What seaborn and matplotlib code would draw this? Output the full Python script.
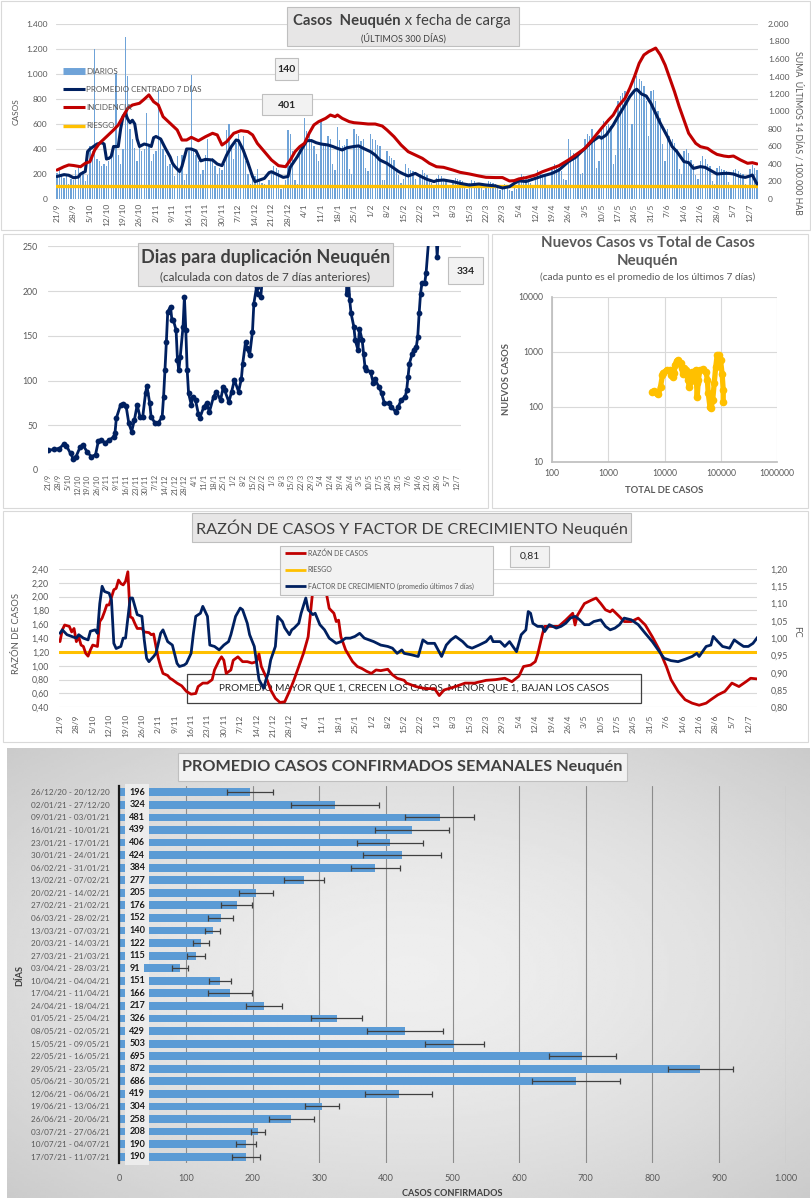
import numpy as np
import pandas as pd
import matplotlib
matplotlib.use("Agg")
import matplotlib.pyplot as plt
import seaborn as sns
from matplotlib.patches import Rectangle
from matplotlib.lines import Line2D
from matplotlib.ticker import FuncFormatter, NullLocator

# ---------------------------------------------------------------- DATA
TICK_LABELS = ['21/9', '28/9', '5/10', '12/10', '19/10', '26/10', '2/11', '9/11', '16/11', '23/11',
               '30/11', '7/12', '14/12', '21/12', '28/12', '4/1', '11/1', '18/1', '25/1', '1/2',
               '8/2', '15/2', '22/2', '1/3', '8/3', '15/3', '22/3', '29/3', '5/4', '12/4', '19/4',
               '26/4', '3/5', '10/5', '17/5', '24/5', '31/5', '7/6', '14/6', '21/6', '28/6', '5/7', '12/7']

# daily cases 21/9/2020 .. 15/7/2021 (one row per week, Mon..Sun)
DIARIOS = [
    210, 240, 190, 170, 200, 120, 160,
    150, 230, 260, 200, 220, 140, 190,
    420, 380, 1200, 320, 300, 260, 280,
    260, 300, 380, 420, 1010, 350, 280,
    400, 1300, 980, 560, 480, 410, 300,
    420, 380, 400, 690, 430, 300, 360,
    380, 860, 470, 400, 350, 260, 280,
    280, 180, 340, 220, 350, 150, 200,
    380, 990, 400, 350, 300, 200, 230,
    350, 480, 300, 330, 260, 200, 250,
    230, 280, 550, 600, 430, 320, 450,
    520, 440, 500, 300, 200, 120, 160,
    180, 240, 150, 130, 120, 100, 150,
    220, 260, 250, 230, 80, 90, 150,
    550, 520, 380, 150, 120, 420, 400,
    650, 540, 520, 480, 420, 360, 300,
    620, 440, 450, 500, 480, 280, 230,
    575, 470, 420, 430, 480, 240, 200,
    560, 520, 500, 460, 480, 250, 220,
    520, 480, 470, 430, 420, 150, 150,
    380, 340, 330, 310, 240, 190, 130,
    160, 280, 250, 230, 220, 160, 110,
    200, 230, 210, 190, 160, 130, 100,
    170, 190, 180, 160, 150, 115, 90,
    150, 170, 160, 150, 140, 120, 80,
    130, 150, 140, 130, 120, 105, 70,
    120, 140, 135, 125, 120, 95, 75,
    110, 120, 100, 70, 60, 102, 80,
    140, 200, 180, 170, 160, 127, 90,
    160, 230, 210, 190, 180, 102, 110,
    230, 280, 270, 250, 220, 160, 150,
    480, 390, 370, 350, 340, 200, 210,
    480, 520, 500, 560, 480, 250, 300,
    560, 620, 580, 600, 580, 280, 350,
    780, 820, 850, 860, 800, 405, 600,
    950, 980, 960, 940, 900, 780, 500,
    860, 870, 780, 700, 650, 442, 300,
    560, 500, 480, 450, 400, 243, 200,
    380, 400, 370, 310, 280, 188, 160,
    300, 340, 320, 280, 260, 146, 120,
    250, 260, 240, 230, 220, 136, 110,
    230, 240, 220, 210, 200, 120, 100,
    240, 270, 250, 230,
]

PROMEDIO_7D = [
    ('21/9', 180), ('24/9', 195), ('26/9', 190), ('28/9', 170), ('30/9', 175), ('1/10', 200),
    ('3/10', 220), ('4/10', 380), ('5/10', 400), ('8/10', 440), ('10/10', 450), ('11/10', 440),
    ('12/10', 320), ('13/10', 325), ('14/10', 340), ('15/10', 420), ('17/10', 420), ('18/10', 560),
    ('19/10', 660), ('20/10', 688), ('21/10', 640), ('22/10', 610), ('23/10', 630), ('24/10', 600),
    ('25/10', 480), ('26/10', 420), ('28/10', 440), ('30/10', 430), ('31/10', 420), ('1/11', 490),
    ('2/11', 500), ('4/11', 480), ('6/11', 405), ('8/11', 337), ('9/11', 287), ('10/11', 260),
    ('12/11', 220), ('13/11', 260), ('14/11', 330), ('15/11', 400), ('17/11', 400), ('19/11', 385),
    ('21/11', 305), ('23/11', 317), ('26/11', 312), ('28/11', 280), ('30/11', 267), ('2/12', 352),
    ('4/12', 420), ('6/12', 472), ('7/12', 467), ('9/12', 392), ('11/12', 290), ('13/12', 178),
    ('14/12', 139), ('16/12', 152), ('18/12', 165), ('20/12', 211), ('21/12', 218), ('23/12', 200),
    ('26/12', 173), ('28/12', 180), ('29/12', 255), ('1/1', 339), ('3/1', 405), ('5/1', 467),
    ('7/1', 467), ('9/1', 450), ('11/1', 440), ('14/1', 432), ('16/1', 420), ('18/1', 405),
    ('20/1', 392), ('22/1', 410), ('25/1', 420), ('27/1', 425), ('29/1', 405), ('1/2', 379),
    ('3/2', 352), ('5/2', 312), ('8/2', 285), ('10/2', 259), ('13/2', 219), ('15/2', 200),
    ('17/2', 184), ('20/2', 205), ('22/2', 184), ('25/2', 157), ('28/2', 139), ('1/3', 147),
    ('4/3', 152), ('8/3', 139), ('11/3', 125), ('15/3', 112), ('19/3', 120), ('22/3', 112),
    ('26/3', 105), ('29/3', 88), ('1/4', 99), ('3/4', 125), ('5/4', 145), ('8/4', 140),
    ('12/4', 165), ('15/4', 184), ('19/4', 205), ('22/4', 232), ('26/4', 299), ('29/4', 333),
    ('3/5', 405), ('6/5', 459), ('9/5', 499), ('10/5', 486), ('12/5', 512), ('15/5', 592),
    ('17/5', 659), ('20/5', 752), ('22/5', 819), ('24/5', 867), ('25/5', 878), ('27/5', 840),
    ('29/5', 824), ('31/5', 765), ('2/6', 685), ('4/6', 605), ('7/6', 499), ('9/6', 419),
    ('11/6', 379), ('14/6', 299), ('16/6', 291), ('18/6', 245), ('21/6', 259), ('23/6', 253),
    ('25/6', 232), ('28/6', 200), ('1/7', 205), ('3/7', 205), ('5/7', 200), ('8/7', 179),
    ('10/7', 173), ('12/7', 184), ('13/7', 192), ('15/7', 120),
]

INCIDENCIA = [
    ('21/9', 331), ('24/9', 369), ('26/9', 389), ('28/9', 383), ('1/10', 369), ('3/10', 408),
    ('5/10', 427), ('7/10', 560), ('9/10', 636), ('12/10', 712), ('15/10', 789), ('17/10', 846),
    ('19/10', 941), ('21/10', 1036), ('23/10', 1074), ('26/10', 1094), ('28/10', 1140), ('30/10', 1190),
    ('1/11', 1112), ('3/11', 1074), ('5/11', 941), ('8/11', 865), ('11/11', 789), ('13/11', 674),
    ('15/11', 674), ('17/11', 705), ('20/11', 666), ('23/11', 712), ('26/11', 751), ('28/11', 732),
    ('30/11', 617), ('2/12', 655), ('5/12', 751), ('8/12', 781), ('11/12', 770), ('13/12', 732),
    ('15/12', 636), ('18/12', 541), ('21/12', 446), ('24/12', 381), ('27/12', 369), ('29/12', 446),
    ('31/12', 541), ('2/1', 598), ('4/1', 636), ('6/1', 751), ('8/1', 846), ('10/1', 884),
    ('13/1', 922), ('15/1', 960), ('17/1', 941), ('18/1', 960), ('20/1', 922), ('23/1', 884),
    ('25/1', 872), ('28/1', 865), ('31/1', 857), ('3/2', 857), ('6/2', 834), ('8/2', 789),
    ('11/2', 712), ('14/2', 617), ('17/2', 541), ('20/2', 503), ('23/2', 465), ('26/2', 408),
    ('1/3', 369), ('4/3', 362), ('8/3', 331), ('11/3', 305), ('15/3', 286), ('19/3', 263),
    ('22/3', 248), ('26/3', 245), ('29/3', 245), ('1/4', 206), ('3/4', 210), ('5/4', 230),
    ('8/4', 244), ('12/4', 274), ('15/4', 312), ('19/4', 351), ('22/4', 381), ('26/4', 446),
    ('30/4', 522), ('3/5', 579), ('6/5', 674), ('10/5', 808), ('13/5', 903), ('15/5', 960),
    ('17/5', 1055), ('20/5', 1151), ('22/5', 1265), ('24/5', 1398), ('26/5', 1551), ('28/5', 1646),
    ('30/5', 1684), ('1/6', 1711), ('2/6', 1725), ('4/6', 1646), ('6/6', 1532), ('8/6', 1379),
    ('10/6', 1226), ('12/6', 1055), ('14/6', 903), ('16/6', 751), ('19/6', 636), ('21/6', 598),
    ('24/6', 579), ('26/6', 541), ('28/6', 510), ('1/7', 491), ('3/7', 484), ('5/7', 491),
    ('8/7', 446), ('11/7', 408), ('13/7', 415), ('15/7', 401),
]
RIESGO_CASOS = 100

# days for doubling (day index since 21/9/2020)
DUPL_DIA = [0, 4, 8, 11, 13, 16, 18, 20, 23, 25, 28, 31, 34, 36, 38, 41, 44, 47, 48, 49, 52, 54, 56,
            58, 60, 62, 64, 66, 68, 70, 71, 73, 74, 77, 79, 82, 83, 84, 85, 86, 88, 89, 90, 92, 93,
            94, 95, 97, 98, 99, 100, 101, 103, 104, 106, 108, 109, 112, 114, 116, 119, 121, 124, 126,
            127, 130, 132, 134, 137, 139, 140, 142, 143, 145, 147, 148, 150, 151, 153, 154,
            157, 170, 185, 200, 212,
            215, 216, 217, 218, 220, 221, 223, 224, 226, 227, 228, 229, 232, 234, 235, 238, 240,
            242, 245, 247, 250, 252, 254, 257, 258, 259, 260, 262, 263, 265, 266, 267, 268, 269,
            271, 272, 275, 278, 280, 282, 290, 297]
DUPL_VAL = [22, 23, 24, 28.7, 27, 18.6, 12.3, 15, 26, 28, 20, 15, 17, 32, 33.5, 30.5, 33.5, 37, 41,
            58, 72.6, 74, 71.5, 52, 43, 56, 72.6, 59.6, 59.6, 85.7, 94, 75, 59.6, 52, 52, 59.6, 82,
            111.7, 143, 177, 182.5, 167.6, 167.6, 156.4, 123, 111.7, 126.6, 160, 193.7, 156, 111.7,
            85.7, 72.6, 82, 78, 63, 57.7, 70.8, 74.5, 65, 82, 87.5, 78, 93, 89, 76, 87.5, 100.6,
            87.5, 102, 119, 143, 136, 128.5, 154.6, 186, 205, 197, 193.7, 212,
            300, 400, 450, 400, 300,
            197, 216, 190, 175, 160, 145, 134, 158, 145, 130, 115.5, 111.7, 110, 97, 102, 93, 85.7,
            74.5, 74.5, 70.8, 65, 70.8, 78, 82, 89, 104, 119, 130, 134, 138, 149, 175, 197, 208.6,
            208.6, 220, 280, 300, 238, 300, 320, 334]

# new cases vs total cases (log-log)
TOTAL_CASOS = [6080, 6600, 7240, 7800, 8500, 9200, 9500, 10900, 12500, 13300, 14300, 14900, 15300,
               16400, 17500, 19300, 20200, 21000, 22000, 23600, 24700, 26300, 27400, 28700, 30900,
               33000, 35500, 37000, 38000, 39700, 42500, 48800, 54400, 57600, 59600, 64000, 66800,
               71600, 76000, 81000, 86000, 91800, 98500, 105000, 110000, 110000]
NUEVOS_CASOS = [187, 195, 180, 170, 230, 375, 415, 465, 465, 375, 350, 415, 570, 675, 705, 615, 500,
                400, 500, 465, 375, 305, 230, 285, 435, 350, 465, 265, 150, 305, 465, 480, 435, 305,
                175, 100, 93, 132, 265, 530, 870, 870, 705, 400, 200, 123]

# case ratio (left axis) and growth factor (right axis)
RAZON_DIA = [0, 1, 2, 4, 5, 6, 7, 8, 9, 10, 11, 12, 13, 14, 16, 17, 18, 19, 20, 21, 22, 23, 24, 25, 26,
             27, 28, 29, 30, 31, 32, 33, 35, 36, 38, 39, 40, 41, 42, 43, 44, 46, 47, 48, 50, 52, 54,
             56, 58, 59, 61, 63, 65, 66, 68, 69, 70, 71, 73, 74, 76, 78, 80, 82, 84, 85, 86, 88, 90,
             92, 94, 96, 98, 100, 102, 104, 106, 107, 108, 110, 112, 113, 115, 117, 118, 119, 120,
             122, 125, 127, 129, 131, 133, 135, 137, 140, 142, 144, 147, 148, 152, 156, 160, 162,
             164, 169, 173, 177, 182, 186, 190, 193, 196, 198, 201, 203, 204, 206, 207, 210, 213,
             216, 219, 220, 221, 224, 227, 229, 231, 233, 235, 236, 239, 241, 244, 247, 250, 253,
             256, 259, 261, 264, 267, 270, 273, 276, 278, 281, 284, 287, 290, 293, 295, 298]
RAZON_VAL = [1.35, 1.52, 1.59, 1.57, 1.49, 1.54, 1.35, 1.42, 1.30, 1.28, 1.18, 1.14, 1.23, 1.30, 1.28,
             1.64, 1.69, 1.78, 1.88, 1.88, 1.99, 2.10, 2.12, 2.24, 2.19, 2.17, 2.22, 2.36, 1.71, 1.69,
             1.61, 1.54, 1.54, 1.49, 1.48, 1.45, 1.46, 1.28, 1.11, 0.99, 0.89, 0.86, 0.82, 0.80, 0.75,
             0.71, 0.63, 0.59, 0.60, 0.70, 0.75, 0.75, 0.80, 0.94, 1.08, 1.13, 1.08, 0.89, 0.94, 1.08,
             1.13, 1.06, 1.06, 1.04, 1.06, 1.17, 0.99, 0.84, 0.65, 0.53, 0.47, 0.48, 0.63, 0.80, 0.99,
             1.18, 1.42, 1.76, 2.10, 2.60, 2.60, 2.19, 1.83, 1.76, 1.64, 1.66, 1.42, 1.23, 1.06, 0.99,
             0.96, 0.92, 0.89, 0.94, 0.93, 0.95, 0.87, 0.82, 0.79, 0.75, 0.70, 0.67, 0.67, 0.57, 0.65,
             0.70, 0.75, 0.75, 0.79, 0.80, 0.82, 0.77, 0.85, 0.99, 1.01, 1.06, 1.16, 1.45, 1.57, 1.57,
             1.57, 1.66, 1.76, 1.59, 1.73, 1.90, 1.95, 1.98, 1.90, 1.81, 1.78, 1.81, 1.71, 1.64, 1.64,
             1.69, 1.59, 1.42, 1.23, 0.99, 0.80, 0.63, 0.51, 0.46, 0.43, 0.46, 0.51, 0.58, 0.63, 0.75,
             0.70, 0.77, 0.82, 0.81]
RIESGO_RAZON = 1.2

FC_DIA = [0, 1, 3, 5, 7, 8, 10, 12, 13, 15, 16, 17, 18, 19, 21, 22, 23, 24, 26, 27, 28, 30, 31, 33, 35,
          36, 37, 38, 40, 41, 43, 44, 46, 47, 48, 50, 51, 53, 54, 56, 57, 58, 60, 61, 63, 64, 66, 68,
          70, 72, 73, 75, 77, 78, 80, 81, 83, 84, 85, 87, 88, 89, 90, 92, 93, 95, 96, 98, 99, 100,
          102, 103, 105, 106, 108, 109, 111, 113, 115, 117, 118, 120, 122, 124, 126, 128, 130, 132,
          134, 137, 140, 142, 144, 146, 147, 150, 153, 155, 157, 160, 163, 165, 167, 169, 172, 174,
          176, 179, 182, 184, 185, 188, 190, 192, 194, 195, 197, 199, 200, 201, 202, 204, 206, 207,
          209, 212, 214, 216, 218, 220, 222, 224, 226, 228, 231, 233, 235, 237, 239, 241, 244, 247,
          250, 253, 256, 258, 261, 264, 267, 270, 272, 273, 276, 278, 279, 281, 283, 286, 288, 290,
          292, 294, 296, 298]
FC_VAL = [1.014, 1.024, 1.01, 1.005, 1.0, 1.01, 1.0, 0.995, 1.02, 1.024, 1.014, 1.10, 1.15, 1.135, 1.13,
          1.11, 0.985, 0.97, 0.976, 1.0, 1.0, 1.116, 1.116, 1.068, 1.063, 0.995, 0.942, 0.932, 0.947,
          0.956, 1.014, 1.024, 0.99, 0.985, 0.98, 0.927, 0.918, 0.922, 0.927, 0.956, 1.014, 1.063,
          1.072, 1.092, 1.063, 0.98, 0.976, 0.966, 0.98, 0.99, 1.01, 1.063, 1.087, 1.082, 1.043,
          1.01, 0.976, 0.927, 0.88, 0.855, 0.88, 0.899, 0.937, 0.976, 1.063, 1.048, 1.03, 1.01,
          1.024, 1.029, 1.043, 1.072, 1.116, 1.082, 1.068, 1.072, 1.039, 1.024, 1.0, 0.99, 0.985,
          0.99, 1.0, 1.0, 1.005, 1.014, 1.0, 0.995, 0.99, 0.98, 0.976, 0.971, 0.956, 0.966, 0.956,
          0.952, 0.947, 0.995, 0.985, 0.985, 0.947, 0.98, 0.995, 1.005, 0.99, 0.976, 0.971, 0.98,
          0.99, 1.005, 0.99, 0.99, 0.976, 0.99, 0.971, 0.961, 1.01, 1.024, 1.077, 1.072, 1.043,
          1.034, 1.034, 1.019, 1.039, 1.029, 1.034, 1.043, 1.058, 1.063, 1.053, 1.039, 1.039, 1.048,
          1.053, 1.034, 1.024, 1.029, 1.039, 1.058, 1.053, 1.039, 1.014, 0.99, 0.961, 0.942, 0.935,
          0.932, 0.939, 0.947, 0.956, 0.947, 0.976, 0.98, 1.005, 0.99, 0.976, 0.971, 0.995, 0.985,
          0.976, 0.976, 0.985, 1.003]

# weekly averages
SEMANAS = ['26/12/20 - 20/12/20', '02/01/21 - 27/12/20', '09/01/21 - 03/01/21', '16/01/21 - 10/01/21',
           '23/01/21 - 17/01/21', '30/01/21 - 24/01/21', '06/02/21 - 31/01/21', '13/02/21 - 07/02/21',
           '20/02/21 - 14/02/21', '27/02/21 - 21/02/21', '06/03/21 - 28/02/21', '13/03/21 - 07/03/21',
           '20/03/21 - 14/03/21', '27/03/21 - 21/03/21', '03/04/21 - 28/03/21', '10/04/21 - 04/04/21',
           '17/04/21 - 11/04/21', '24/04/21 - 18/04/21', '01/05/21 - 25/04/21', '08/05/21 - 02/05/21',
           '15/05/21 - 09/05/21', '22/05/21 - 16/05/21', '29/05/21 - 23/05/21', '05/06/21 - 30/05/21',
           '12/06/21 - 06/06/21', '19/06/21 - 13/06/21', '26/06/21 - 20/06/21', '03/07/21 - 27/06/21',
           '10/07/21 - 04/07/21', '17/07/21 - 11/07/21']
PROMEDIOS = [196, 324, 481, 439, 406, 424, 384, 277, 205, 176, 152, 140, 122, 115, 91, 151, 166, 217,
             326, 429, 503, 695, 872, 686, 419, 304, 258, 208, 190, 190]
ERRORES = [35, 66, 52, 55, 49, 58, 37, 30, 25, 23, 19, 11, 12, 13, 12, 17, 33, 27, 38, 57, 45, 50, 49,
           66, 50, 26, 34, 10, 15, 21]

# ---------------------------------------------------------------- STYLE
sns.set_theme(style="white")
plt.rcParams['font.family'] = ['Lato', 'DejaVu Sans']
plt.rcParams['axes.unicode_minus'] = False

W, H = 811, 1200
fig = plt.figure(figsize=(W / 100, H / 100), dpi=100)
fig.patch.set_facecolor('white')

NAVY = '#002060'
RED = '#c00000'
GOLD = '#ffc000'
BLUE = '#5b9bd5'
BAR_TOP = '#6fa3d8'
GRAY_TXT = '#595959'
DARK_TXT = '#404040'
GRID = '#d9d9d9'

BASE = pd.Timestamp('2020-09-21')


def day_of(s):
    d, m = map(int, s.split('/'))
    y = 2020 if m >= 9 else 2021
    return (pd.Timestamp(year=y, month=m, day=d) - BASE).days


def rect(x0, y0, x1, y1):
    return [x0 / W, 1 - y1 / H, (x1 - x0) / W, (y1 - y0) / H]


def fx(x):
    return x / W


def fy(y):
    return 1 - y / H


def add_box(x0, y0, x1, y1, fc='#e7e6e6', ec='#bfbfbf', lw=0.8, z=4, target=None):
    r = Rectangle((fx(x0), fy(y1)), (x1 - x0) / W, (y1 - y0) / H, transform=fig.transFigure,
                  facecolor=fc, edgecolor=ec, lw=lw, zorder=z, clip_on=False)
    if target is None:
        fig.add_artist(r)
    else:
        target.add_patch(r)


def ftext(x, y, s, **kw):
    kw.setdefault('zorder', 6)
    fig.text(fx(x), fy(y), s, **kw)


thousands = FuncFormatter(lambda v, _: f'{int(round(v)):,}'.replace(',', '.'))
comma2 = FuncFormatter(lambda v, _: f'{v:.2f}'.replace('.', ','))


def clean(ax):
    for s in ax.spines.values():
        s.set_visible(False)


# panel frames
add_box(1, 1, 810, 230, fc='none', ec='#d9d9d9', z=1)
add_box(3, 234, 488, 508, fc='none', ec='#d9d9d9', z=1)
add_box(492, 234, 808, 508, fc='none', ec='#d9d9d9', z=1)
add_box(3, 511, 808, 742, fc='none', ec='#d9d9d9', z=1)

# ---------------------------------------------------------------- PANEL 1
N = len(DIARIOS)
ax1 = fig.add_axes(rect(55.8, 24, 758.2, 199))
ax1.patch.set_alpha(0)
sns.barplot(x=np.arange(N), y=DIARIOS, native_scale=True, color=BAR_TOP, saturation=1,
            width=0.55, errorbar=None, ax=ax1, zorder=2, linewidth=0, edgecolor='none')
prom = pd.DataFrame(PROMEDIO_7D, columns=['fecha', 'valor'])
prom['dia'] = prom['fecha'].map(day_of)
sns.lineplot(data=prom, x='dia', y='valor', color=NAVY, lw=2.2, estimator=None, ax=ax1, zorder=4)
ax1.axhline(RIESGO_CASOS, color=GOLD, lw=2.4, zorder=3)
ax1.set_xlim(-0.5, N - 0.5)
ax1.set_ylim(0, 1400)
ax1.set_yticks(np.arange(0, 1401, 200))
ax1.yaxis.set_major_formatter(thousands)
ax1.set_xticks(np.arange(0, 7 * len(TICK_LABELS), 7))
ax1.set_xticklabels(TICK_LABELS, rotation=90)
ax1.tick_params(axis='x', labelsize=6, colors=GRAY_TXT, length=0, pad=3)
ax1.tick_params(axis='y', labelsize=6, colors=GRAY_TXT, length=0, pad=6)
ax1.grid(axis='y', color=GRID, lw=0.8, zorder=0)
ax1.set_axisbelow(True)
ax1.set_xlabel('')
ax1.set_ylabel('')
clean(ax1)

ax1r = ax1.twinx()
inc = pd.DataFrame(INCIDENCIA, columns=['fecha', 'valor'])
inc['dia'] = inc['fecha'].map(day_of)
sns.lineplot(data=inc, x='dia', y='valor', color=RED, lw=2.2, estimator=None, ax=ax1r, zorder=5)
ax1r.set_ylim(0, 2000)
ax1r.set_yticks(np.arange(0, 2001, 200))
ax1r.yaxis.set_major_formatter(thousands)
ax1r.tick_params(axis='y', labelsize=6, colors=GRAY_TXT, length=0, pad=7)
ax1r.set_ylabel('')
ax1r.set_xlim(-0.5, N - 0.5)
clean(ax1r)

ftext(16, 112, 'CASOS', rotation=90, ha='center', va='center', fontsize=6, color=GRAY_TXT)
ftext(798, 133, 'SUMA  ÚLTIMOS 14 DÍAS / 100.000 HAB', rotation=270, ha='center', va='center',
      fontsize=6.3, color=GRAY_TXT)

# title box
add_box(287, 7, 519, 46, fc='#e7e6e6', ec='#bfbfbf')
ftext(401, 21, 'Casos  Neuquén', ha='right', va='center', fontsize=10.7, fontweight='bold', color=DARK_TXT)
ftext(401, 21, ' x fecha de carga', ha='left', va='center', fontsize=10.7, color=DARK_TXT)
ftext(403, 38, '(ÚLTIMOS 300 DÍAS)', ha='center', va='center', fontsize=6.5, color=DARK_TXT)
add_box(275, 58, 298, 80, fc='#f2f2f2', ec='#bfbfbf')
ftext(286.5, 69, '140', ha='center', va='center', fontsize=7.5, fontweight='bold', color='#262626')
add_box(262, 94, 312, 115, fc='#f2f2f2', ec='#bfbfbf')
ftext(287, 105, '401', ha='center', va='center', fontsize=7.5, fontweight='bold', color='#262626')

# legend (manual)
leg_items = [('DIARIOS', BAR_TOP, 5), ('PROMEDIO CENTRADO 7 DÍAS', NAVY, 2.2),
             ('INCIDENCIA', RED, 2.2), ('RIESGO', GOLD, 2.4)]
for i, (lab, col, lw) in enumerate(leg_items):
    yy = 71 + i * 18.2
    fig.add_artist(Line2D([fx(63), fx(85)], [fy(yy), fy(yy)], transform=fig.transFigure,
                          color=col, lw=lw, zorder=6, solid_capstyle='butt'))
    ftext(86, yy, lab, ha='left', va='center', fontsize=5.8, color=GRAY_TXT)

# ---------------------------------------------------------------- PANEL 2
ax2 = fig.add_axes(rect(47.6, 246.3, 461.5, 470))
ax2.patch.set_alpha(0)
sns.lineplot(x=DUPL_DIA, y=DUPL_VAL, color=NAVY, lw=2, marker='o', markersize=4.2,
             markeredgewidth=0, estimator=None, ax=ax2, zorder=3)
ax2.set_xlim(-0.5, N - 0.5)
ax2.set_ylim(0, 250)
ax2.set_yticks(np.arange(0, 251, 50))
ax2.set_xticks(np.arange(0, 7 * len(TICK_LABELS), 7))
ax2.set_xticklabels(TICK_LABELS, rotation=90)
ax2.tick_params(axis='x', labelsize=5.3, colors=GRAY_TXT, length=0, pad=3)
ax2.tick_params(axis='y', labelsize=6.3, colors=GRAY_TXT, length=0, pad=7)
ax2.grid(axis='y', color=GRID, lw=0.8)
ax2.set_axisbelow(True)
clean(ax2)

add_box(138, 243, 393, 286, fc='#e7e6e6', ec='#bfbfbf')
ftext(265.5, 258, 'Dias para duplicación Neuquén', ha='center', va='center', fontsize=13,
      fontweight='bold', color=DARK_TXT)
ftext(265.5, 277, '(calculada con datos de 7 días anteriores)', ha='center', va='center',
      fontsize=8.4, color=DARK_TXT)
add_box(448, 257, 483, 284, fc='#f2f2f2', ec='#bfbfbf')
ftext(465.5, 271, '334', ha='center', va='center', fontsize=7.5, fontweight='bold', color='#262626')

# ---------------------------------------------------------------- PANEL 3
ax3 = fig.add_axes(rect(551.7, 296.7, 777.3, 461.7))
sns.lineplot(x=TOTAL_CASOS, y=NUEVOS_CASOS, sort=False, estimator=None, color=GOLD, lw=3.8,
             marker='o', markersize=5.5, markeredgewidth=0, ax=ax3, zorder=3)
ax3.set_xscale('log')
ax3.set_yscale('log')
ax3.set_xlim(100, 1e6)
ax3.set_ylim(10, 1e4)
ax3.set_xticks([100, 1000, 10000, 100000, 1000000])
ax3.set_xticklabels(['100', '1000', '10000', '100000', '1000000'])
ax3.set_yticks([10, 100, 1000, 10000])
ax3.set_yticklabels(['10', '100', '1000', '10000'])
ax3.xaxis.set_minor_locator(NullLocator())
ax3.yaxis.set_minor_locator(NullLocator())
ax3.tick_params(axis='both', labelsize=6.2, colors=GRAY_TXT, length=0)
ax3.tick_params(axis='x', pad=5)
ax3.tick_params(axis='y', pad=6)
ax3.grid(True, color=GRID, lw=0.8)
ax3.set_axisbelow(True)
for s in ax3.spines.values():
    s.set_visible(False)
ax3.spines['left'].set_visible(True)
ax3.spines['bottom'].set_visible(True)
ax3.spines['left'].set_color('#bfbfbf')
ax3.spines['bottom'].set_color('#bfbfbf')
ax3.set_xlabel('TOTAL DE CASOS', fontsize=6.8, fontweight='bold', color=GRAY_TXT, labelpad=6)
ax3.set_ylabel('NUEVOS CASOS', fontsize=6.8, fontweight='bold', color=GRAY_TXT, labelpad=5)

ftext(648, 243, 'Nuevos Casos vs Total de Casos', ha='center', va='center', fontsize=10.8,
      fontweight='bold', color=GRAY_TXT)
ftext(648, 261, 'Neuquén', ha='center', va='center', fontsize=10.8, fontweight='bold', color=GRAY_TXT)
ftext(648, 277, '(cada punto es el promedio de los últimos 7 días)', ha='center', va='center',
      fontsize=7.3, color=GRAY_TXT)

# ---------------------------------------------------------------- PANEL 4
ax4 = fig.add_axes(rect(58.8, 569, 756.5, 707.3))
ax4.patch.set_alpha(0)
add_box(187, 674, 641, 703, fc='none', ec='#404040', lw=0.9, z=1, target=ax4)
ax4.text(fx(414), fy(688.5), 'PROMEDIO MAYOR QUE 1, CRECEN LOS CASOS, MENOR QUE 1, BAJAN LOS CASOS',
         transform=fig.transFigure, ha='center', va='center', fontsize=7.2, color='#262626', zorder=1)
sns.lineplot(x=RAZON_DIA, y=RAZON_VAL, color=RED, lw=2, estimator=None, ax=ax4, zorder=3)
ax4.axhline(RIESGO_RAZON, color=GOLD, lw=2.2, zorder=2)
ax4.set_xlim(-0.5, N - 0.5)
ax4.set_ylim(0.4, 2.4)
ax4.set_yticks(np.arange(0.4, 2.41, 0.2))
ax4.yaxis.set_major_formatter(comma2)
ax4.set_xticks(np.arange(0, 7 * len(TICK_LABELS), 7))
ax4.set_xticklabels(TICK_LABELS, rotation=90)
ax4.tick_params(axis='x', labelsize=6, colors=GRAY_TXT, length=0, pad=5)
ax4.tick_params(axis='y', labelsize=6.3, colors=GRAY_TXT, length=0, pad=7)
ax4.grid(axis='y', color=GRID, lw=0.8)
ax4.set_axisbelow(True)
clean(ax4)

ax4r = ax4.twinx()
sns.lineplot(x=FC_DIA, y=FC_VAL, color=NAVY, lw=2, estimator=None, ax=ax4r, zorder=3)
ax4r.set_ylim(0.8, 1.2)
ax4r.set_yticks(np.arange(0.8, 1.201, 0.05))
ax4r.yaxis.set_major_formatter(comma2)
ax4r.tick_params(axis='y', labelsize=6.3, colors=GRAY_TXT, length=0, pad=10)
ax4r.set_xlim(-0.5, N - 0.5)
clean(ax4r)

ftext(17, 633, 'RAZÓN DE CASOS', rotation=90, ha='center', va='center', fontsize=6.8, color=GRAY_TXT)
ftext(797, 632, 'FC', rotation=270, ha='center', va='center', fontsize=6.8, color=GRAY_TXT)

add_box(192, 513, 631, 542, fc='#e7e6e6', ec='#bfbfbf')
ftext(411.5, 528.5, 'RAZÓN DE CASOS Y FACTOR DE CRECIMIENTO Neuquén', ha='center', va='center',
      fontsize=11.7, color=DARK_TXT)
add_box(280, 546, 493, 595, fc='#f2f2f2', ec='#bfbfbf')
leg4 = [('RAZÓN DE CASOS', RED), ('RIESGO', GOLD),
        ('FACTOR DE CRECIMIENTO (promedio últimos 7 días)', NAVY)]
for i, (lab, col) in enumerate(leg4):
    yy = 553 + i * 16.5
    fig.add_artist(Line2D([fx(285), fx(306)], [fy(yy), fy(yy)], transform=fig.transFigure,
                          color=col, lw=2, zorder=6, solid_capstyle='butt'))
    ftext(307.5, yy, lab, ha='left', va='center', fontsize=5, color=GRAY_TXT)
add_box(510, 546, 549, 567, fc='#f2f2f2', ec='#bfbfbf')
ftext(529.5, 556.5, '0,81', ha='center', va='center', fontsize=7.5, color='#262626')

# ---------------------------------------------------------------- PANEL 5
bg = fig.add_axes(rect(7, 748, 810, 1198))
yy_, xx_ = np.mgrid[-1:1:200j, -1:1:300j]
rr = np.sqrt(xx_ ** 2 + yy_ ** 2) / np.sqrt(2)
bg.imshow(0.935 - 0.14 * rr ** 1.6, cmap='gray', vmin=0, vmax=1, aspect='auto',
          interpolation='bilinear')
bg.set_axis_off()

ax5 = fig.add_axes(rect(119.3, 786, 785.7, 1163))
ax5.patch.set_alpha(0)
sns.barplot(x=PROMEDIOS, y=SEMANAS, orient='h', color=BLUE, saturation=1, width=0.62,
            errorbar=None, ax=ax5, zorder=2, linewidth=0, edgecolor='none')
ax5.errorbar(PROMEDIOS, np.arange(len(PROMEDIOS)), xerr=ERRORES, fmt='none', ecolor='#404040',
             elinewidth=0.9, capsize=2.3, capthick=0.9, zorder=3)
for i, v in enumerate(PROMEDIOS):
    ax5.text(15, i, str(v), ha='left', va='center', fontsize=6.6, fontweight='bold', color='#1a1a1a',
             zorder=4, bbox=dict(boxstyle='square,pad=0.45', fc='#ececec', ec='none'))
ax5.set_xlim(0, 1000)
ax5.set_ylim(len(PROMEDIOS) - 0.5, -0.5)
ax5.set_xticks(np.arange(0, 1001, 100))
ax5.xaxis.set_major_formatter(thousands)
ax5.tick_params(axis='x', labelsize=6.6, colors=GRAY_TXT, length=0, pad=8)
ax5.tick_params(axis='y', labelsize=5.9, colors=GRAY_TXT, length=0, pad=7)
ax5.grid(axis='x', color='#8c8c8c', lw=0.8)
ax5.set_axisbelow(True)
clean(ax5)
ax5.spines['left'].set_visible(True)
ax5.spines['left'].set_color('#1a1a1a')
ax5.spines['left'].set_linewidth(1.6)
ax5.spines['left'].set_zorder(5)
ax5.set_xlabel('CASOS CONFIRMADOS', fontsize=6.6, fontweight='bold', color=DARK_TXT, labelpad=4)
ax5.set_ylabel('')
ftext(20, 975, 'DÍAS', rotation=90, ha='center', va='center', fontsize=6.6, fontweight='bold',
      color=DARK_TXT)

add_box(178, 753, 627, 781, fc='#f2f2f2', ec='#bfbfbf')
ftext(402.5, 767.5, 'PROMEDIO CASOS CONFIRMADOS SEMANALES Neuquén', ha='center', va='center',
      fontsize=11.7, fontweight='bold', color=DARK_TXT)

fig.savefig('out.png', dpi=100)
